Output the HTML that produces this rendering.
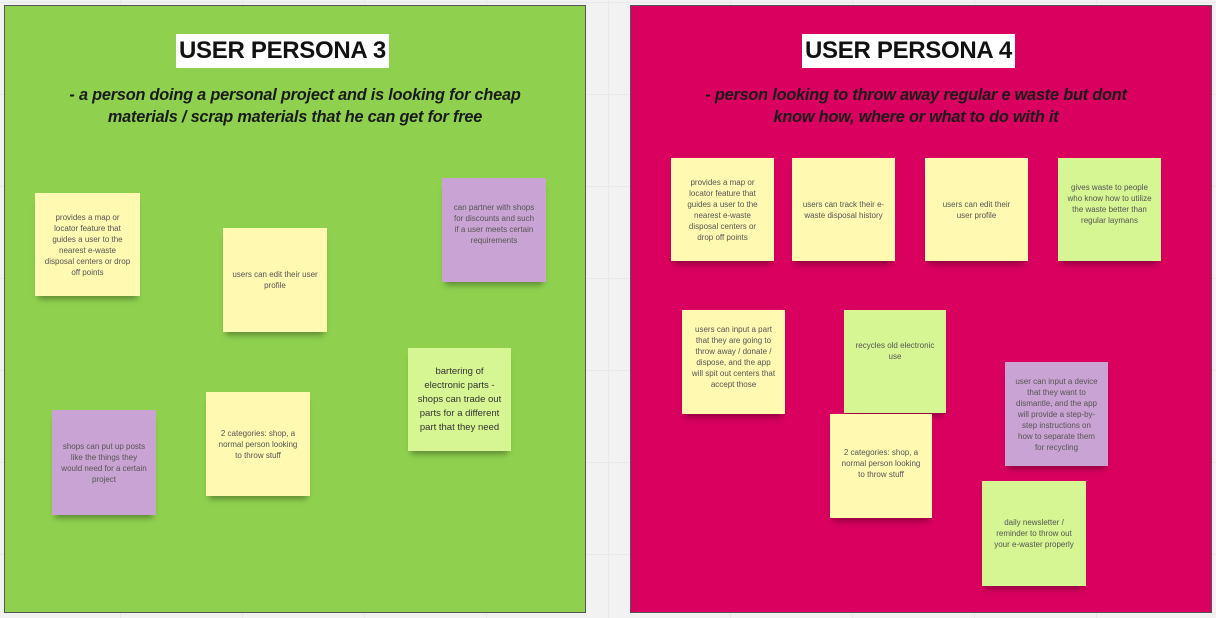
<!DOCTYPE html>
<html><head><meta charset="utf-8"><style>
body{margin:0;width:1216px;height:618px;overflow:hidden;background:#f2f2f2;position:relative;font-family:"Liberation Sans",sans-serif;
background-image:linear-gradient(#e8e8e8 1px,transparent 1px),linear-gradient(90deg,#e8e8e8 1px,transparent 1px);background-size:122px 92px;background-position:-2px 2px}
.frame{position:absolute;top:5px;height:608px;width:582px;box-sizing:border-box;border:1px solid #555}
.title{position:absolute;top:34px;height:34px;background:#fff;font-weight:bold;font-size:24px;color:#111;text-align:center;line-height:34px;letter-spacing:-0.3px}
.sub{position:absolute;top:84px;font-weight:bold;font-style:italic;font-size:16.3px;line-height:22px;color:#1a1a1a;text-align:center;letter-spacing:-0.2px}
.n{position:absolute;box-sizing:border-box;display:flex;align-items:center;justify-content:center;text-align:center;font-size:8px;line-height:11px;color:#555;padding:0 9px;box-shadow:0 6px 6px -3px rgba(0,0,0,.35)}
.y{background:#fff9b1}.g{background:#d5f692}.p{background:#c9a3d4}
</style></head><body>
<div class="frame" style="left:4px;background:#8fd14f"></div>
<div class="frame" style="left:630px;background:#d9005f"></div>
<div class="title" style="left:176px;width:213px">USER PERSONA 3</div>
<div class="title" style="left:802px;width:213px">USER PERSONA 4</div>
<div class="sub" style="left:10px;width:570px">- a person doing a personal project and is looking for cheap<br>materials / scrap materials that he can get for free</div>
<div class="sub" style="left:626px;width:580px">- person looking to throw away regular e waste but dont<br>know how, where or what to do with it</div>

<div class="n y" style="left:35px;top:193px;width:105px;height:103px">provides a map or locator feature that guides a user to the nearest e-waste disposal centers or drop off points</div>
<div class="n y" style="left:223px;top:228px;width:104px;height:104px">users can edit their user profile</div>
<div class="n p" style="left:442px;top:178px;width:104px;height:104px;padding-bottom:12px">can partner with shops for discounts and such if a user meets certain requirements</div>
<div class="n g" style="left:408px;top:348px;width:103px;height:103px;font-size:9.5px;line-height:14px;color:#333">bartering of electronic parts - shops can trade out parts for a different part that they need</div>
<div class="n y" style="left:206px;top:392px;width:104px;height:104px">2 categories: shop, a normal person looking to throw stuff</div>
<div class="n p" style="left:52px;top:410px;width:104px;height:105px">shops can put up posts like the things they would need for a certain project</div>

<div class="n y" style="left:671px;top:158px;width:103px;height:103px">provides a map or locator feature that guides a user to the nearest e-waste disposal centers or drop off points</div>
<div class="n y" style="left:792px;top:158px;width:103px;height:103px">users can track their e-waste disposal history</div>
<div class="n y" style="left:925px;top:158px;width:103px;height:103px">users can edit their user profile</div>
<div class="n g" style="left:1058px;top:158px;width:103px;height:103px;padding-bottom:12px">gives waste to people who know how to utilize the waste better than regular laymans</div>
<div class="n y" style="left:682px;top:310px;width:103px;height:104px;padding-bottom:10px">users can input a part that they are going to throw away / donate / dispose, and the app will spit out centers that accept those</div>
<div class="n g" style="left:844px;top:310px;width:102px;height:103px;padding-bottom:22px">recycles old electronic use</div>
<div class="n y" style="left:830px;top:414px;width:102px;height:104px;padding-bottom:6px">2 categories: shop, a normal person looking to throw stuff</div>
<div class="n p" style="left:1005px;top:362px;width:103px;height:104px">user can input a device that they want to dismantle, and the app will provide a step-by-step instructions on how to separate them for recycling</div>
<div class="n g" style="left:982px;top:481px;width:104px;height:105px">daily newsletter / reminder to throw out your e-waster properly</div>
</body></html>
